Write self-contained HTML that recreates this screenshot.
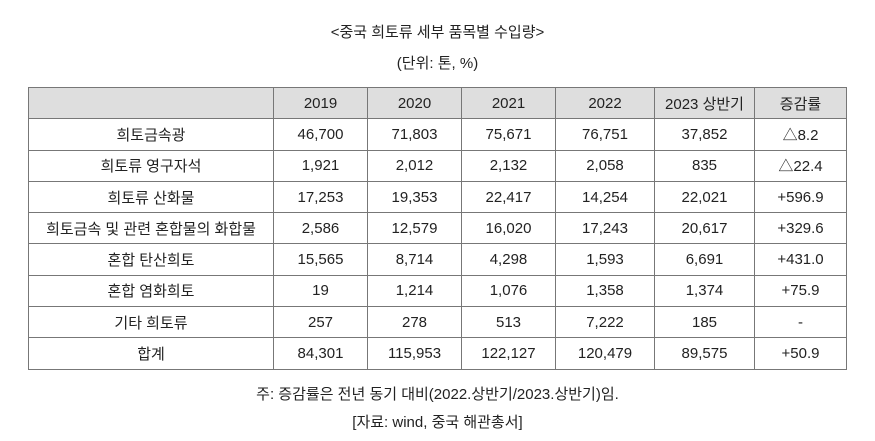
<!DOCTYPE html>
<html><head><meta charset="utf-8"><style>
body{margin:0;width:875px;height:441px;background:#fff;font-family:"Liberation Sans","Noto Sans CJK KR",sans-serif;color:#222;font-size:15px;position:relative;overflow:hidden}
.t{position:absolute;left:0;width:875px;text-align:center}
table{position:absolute;left:28px;top:87px;border-collapse:collapse;table-layout:fixed}
td{border:1px solid #777;height:30.3px;padding:0;text-align:center;font-size:15px}
tr.h td{background:#dedede}
</style></head><body>
<div class="t" style="top:21px">&lt;중국 희토류 세부 품목별 수입량&gt;</div>
<div class="t" style="top:52px">(단위: 톤, %)</div>
<table>
<colgroup><col style="width:245px"><col style="width:94px"><col style="width:94px"><col style="width:94px"><col style="width:99px"><col style="width:100px"><col style="width:92px"></colgroup>
<tr class="h"><td></td><td>2019</td><td>2020</td><td>2021</td><td>2022</td><td>2023 상반기</td><td>증감률</td></tr>
<tr><td>희토금속광</td><td>46,700</td><td>71,803</td><td>75,671</td><td>76,751</td><td>37,852</td><td>△8.2</td></tr>
<tr><td>희토류 영구자석</td><td>1,921</td><td>2,012</td><td>2,132</td><td>2,058</td><td>835</td><td>△22.4</td></tr>
<tr><td>희토류 산화물</td><td>17,253</td><td>19,353</td><td>22,417</td><td>14,254</td><td>22,021</td><td>+596.9</td></tr>
<tr><td>희토금속 및 관련 혼합물의 화합물</td><td>2,586</td><td>12,579</td><td>16,020</td><td>17,243</td><td>20,617</td><td>+329.6</td></tr>
<tr><td>혼합 탄산희토</td><td>15,565</td><td>8,714</td><td>4,298</td><td>1,593</td><td>6,691</td><td>+431.0</td></tr>
<tr><td>혼합 염화희토</td><td>19</td><td>1,214</td><td>1,076</td><td>1,358</td><td>1,374</td><td>+75.9</td></tr>
<tr><td>기타 희토류</td><td>257</td><td>278</td><td>513</td><td>7,222</td><td>185</td><td>-</td></tr>
<tr><td>합계</td><td>84,301</td><td>115,953</td><td>122,127</td><td>120,479</td><td>89,575</td><td>+50.9</td></tr>
</table>
<div class="t" style="top:383px">주: 증감률은 전년 동기 대비(2022.상반기/2023.상반기)임.</div>
<div class="t" style="top:411px">[자료: wind, 중국 해관총서]</div>
</body></html>
